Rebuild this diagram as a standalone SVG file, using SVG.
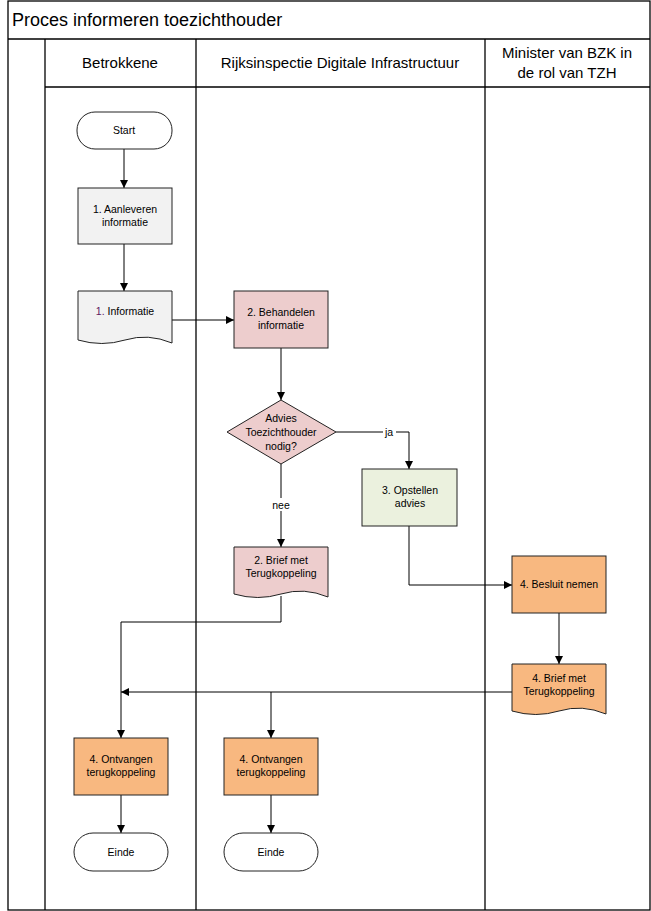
<svg xmlns="http://www.w3.org/2000/svg" width="651" height="911" viewBox="0 0 651 911">
<style>
.ln{stroke:#000;stroke-width:1.3;fill:none}
.nd{stroke:#222;stroke-width:1}
.t{font-family:"Liberation Sans",Arial,sans-serif;font-size:10.5px;text-anchor:middle;fill:#000}
.h{font-family:"Liberation Sans",Arial,sans-serif;font-size:15px;text-anchor:middle;fill:#000}
.c{stroke:#000;stroke-width:1;fill:none;marker-end:url(#a)}
.g{fill:#f2f2f2}.p{fill:#edcdcd}.gr{fill:#ebf1de}.o{fill:#f8b880}.w{fill:#fff}
</style>
<defs><marker id="a" markerWidth="8" markerHeight="8" refX="8" refY="4" orient="auto" markerUnits="userSpaceOnUse"><path d="M0,0L8,4L0,8z" fill="#000"/></marker></defs>
<rect width="651" height="911" fill="#fff"/>
<g id="frame">
<rect x="8" y="1" width="642" height="909" class="ln"/>
<line x1="8" y1="39" x2="650" y2="39" class="ln"/>
<line x1="45" y1="87" x2="650" y2="87" class="ln"/>
<line x1="45" y1="39" x2="45" y2="910" class="ln"/>
<line x1="196" y1="39" x2="196" y2="910" class="ln"/>
<line x1="485" y1="39" x2="485" y2="910" class="ln"/>
<text x="12" y="26" font-family="Liberation Sans,Arial,sans-serif" font-size="18">Proces informeren toezichthouder</text>
<text x="120" y="68" class="h">Betrokkene</text>
<text x="340" y="68" class="h">Rijksinspectie Digitale Infrastructuur</text>
<text x="567" y="58" class="h">Minister van BZK in</text>
<text x="567" y="78" class="h">de rol van TZH</text>
</g>
<g id="connectors">
<path class="c" d="M124,149V188"/>
<path class="c" d="M124,244V291"/>
<path class="c" d="M172,320H234"/>
<path class="c" d="M281,348V400"/>
<path class="c" d="M336,432H409V469"/>
<path class="c" d="M281,464V547"/>
<path class="c" d="M409,526V585H512"/>
<path class="c" d="M281,596V622H121V738"/>
<path class="c" d="M559,613V664"/>
<path class="c" d="M512,692H121"/>
<path class="c" d="M271,692V738"/>
<path class="c" d="M121,795V833"/>
<path class="c" d="M271,795V833"/>
<rect x="383" y="425" width="13" height="13" fill="#fff"/>
<text x="389" y="436" class="t">ja</text>
<rect x="270" y="498" width="22" height="13" fill="#fff"/>
<text x="281" y="509" class="t">nee</text>
</g>
<g id="start"><rect x="77" y="112" width="95" height="37" rx="18" class="nd w"/><text x="124" y="134" class="t">Start</text></g>
<g id="n1"><rect x="78" y="188" width="94" height="56" class="nd g"/><text x="125" y="213" class="t">1. Aanleveren</text><text x="125" y="226" class="t">informatie</text></g>
<g id="d1"><path d="M78,291H172V343Q148,333 125,340T78,340Z" class="nd g"/><text x="125" y="315" class="t"><tspan fill="#602060">1.</tspan> Informatie</text></g>
<g id="n2"><rect x="234" y="291" width="94" height="57" class="nd p"/><text x="281" y="316" class="t">2. Behandelen</text><text x="281" y="329" class="t">informatie</text></g>
<g id="dec"><path d="M281,400L336,432L281,464L227,432Z" class="nd p"/><text x="281" y="422" class="t">Advies</text><text x="281" y="436" class="t">Toezichthouder</text><text x="281" y="450" class="t">nodig?</text></g>
<g id="n3"><rect x="362" y="469" width="95" height="57" class="nd gr"/><text x="410" y="494" class="t">3. Opstellen</text><text x="410" y="507" class="t">advies</text></g>
<g id="d2"><path d="M234,547H328V597Q304,587 281,594T234,594Z" class="nd p"/><text x="281" y="564" class="t">2. Brief met</text><text x="281" y="577" class="t">Terugkoppeling</text></g>
<g id="n4"><rect x="512" y="556" width="94" height="57" class="nd o"/><text x="559" y="588" class="t">4. Besluit nemen</text></g>
<g id="d4"><path d="M512,664H606V714Q582,704 559,711T512,711Z" class="nd o"/><text x="559" y="682" class="t">4. Brief met</text><text x="559" y="695" class="t">Terugkoppeling</text></g>
<g id="r1"><rect x="74" y="738" width="94" height="57" class="nd o"/><text x="121" y="763" class="t">4. Ontvangen</text><text x="121" y="776" class="t">terugkoppeling</text></g>
<g id="r2"><rect x="224" y="738" width="94" height="57" class="nd o"/><text x="271" y="763" class="t">4. Ontvangen</text><text x="271" y="776" class="t">terugkoppeling</text></g>
<g id="e1"><rect x="74" y="833" width="94" height="38" rx="19" class="nd w"/><text x="121" y="856" class="t">Einde</text></g>
<g id="e2"><rect x="224" y="833" width="94" height="38" rx="19" class="nd w"/><text x="271" y="856" class="t">Einde</text></g>
</svg>
